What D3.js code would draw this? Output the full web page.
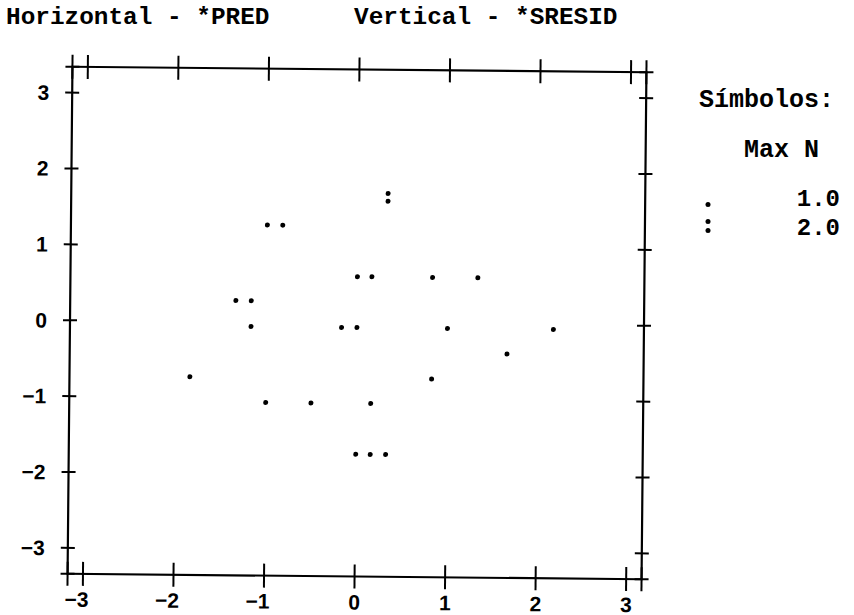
<!DOCTYPE html>
<html>
<head>
<meta charset="utf-8">
<script src="https://cdn.jsdelivr.net/npm/d3@7"></script>
<style>
  body { margin: 0; background: #fff; }
  svg { display: block; }
  .mono { font-family: "Liberation Mono", "Courier New", monospace; font-weight: bold; }
  .tick-lbl { font-family: "Liberation Sans", Arial, sans-serif; font-weight: bold; font-size: 21px; }
</style>
</head>
<body>
<div id="chart"></div>
<script>
/* scatter of standardized residuals vs predicted values */

// horizontal - *PRED
var predVals = [0.33, -1.00, -0.83, 0.00, 0.16, 0.83, 1.33, -1.34, -1.17, -1.17,
                -0.17, 0.00, 1.00, 2.17, 1.66, -1.84, 0.83, -1.00, -0.50, 0.16,
                0.00, 0.16, 0.33]
// vertical - *SRESID
var sresidVals = [1.66, 1.28, 1.28, 0.61, 0.61, 0.61, 0.61, 0.28, 0.28, -0.06,
                  -0.06, -0.06, -0.06, -0.06, -0.39, -0.73, -0.73, -1.06, -1.06, -1.06,
                  -1.73, -1.73, -1.73]
// cases per plotted symbol
var caseCounts = [2, 1, 1, 1, 1, 1, 1, 1, 1, 1,
                  1, 1, 1, 1, 1, 1, 1, 1, 1, 1,
                  1, 1, 1]

var xTicks = [-3, -2, -1, 0, 1, 2, 3]
var yTicks = [-3, -2, -1, 0, 1, 2, 3]
var xDomain = [-3.17, 3.17]
var yDomain = [-3.34, 3.34]

var legendCounts = [1, 2]
var legendLabels = ["1.0", "2.0"]

var width = 854,
    height = 615

var svg = d3.select("#chart")
  .append("svg")
    .attr("width", width)
    .attr("height", height)

// titles
svg.append("text").attr("class", "mono")
  .attr("x", 6).attr("y", 24)
  .style("font-size", "24.4px")
  .text("Horizontal - *PRED")
svg.append("text").attr("class", "mono")
  .attr("x", 354).attr("y", 24)
  .style("font-size", "24.4px")
  .text("Vertical - *SRESID")

// scales
var x = d3.scaleLinear().domain(xDomain).range([70, 644])
var y = d3.scaleLinear().domain(yDomain).range([576.5, 69.5])

// the scanned page is tilted a little
var plot = svg.append("g")
  .attr("transform", "rotate(0.55,357,323)")

var lineStyle = function(sel, w) {
  sel.attr("stroke", "#000").attr("stroke-width", w).attr("fill", "none")
}

// frame
plot.append("rect")
  .attr("x", x(xDomain[0])).attr("y", y(yDomain[1]))
  .attr("width", x(xDomain[1]) - x(xDomain[0]))
  .attr("height", y(yDomain[0]) - y(yDomain[1]))
  .call(lineStyle, 2.2)

// ticks cross the frame lines, frame ends are ticks too
var xTickPos = [xDomain[0]].concat(xTicks, [xDomain[1]])
var yTickPos = [yDomain[0]].concat(yTicks, [yDomain[1]])

yDomain.forEach(function(edge) {
  plot.selectAll(null)
    .data(xTickPos)
    .enter()
    .append("line")
      .attr("x1", function(d) { return x(d) }).attr("x2", function(d) { return x(d) })
      .attr("y1", y(edge) - 12).attr("y2", y(edge) + 12)
      .call(lineStyle, 2)
})
xDomain.forEach(function(edge) {
  plot.selectAll(null)
    .data(yTickPos)
    .enter()
    .append("line")
      .attr("y1", function(d) { return y(d) }).attr("y2", function(d) { return y(d) })
      .attr("x1", x(edge) - 7).attr("x2", x(edge) + 7)
      .call(lineStyle, 2)
})

var fmt = function(d) { return d < 0 ? "\u2212" + Math.abs(d) : String(d) }

// tick labels: digit sits under the tick, minus sticks out to the left
plot.selectAll(null)
  .data(xTicks)
  .enter()
  .append("text")
    .attr("class", "tick-lbl")
    .attr("x", function(d) { return x(d) + 5.8 })
    .attr("y", y(yDomain[0]) + 33)
    .attr("text-anchor", "end")
    .text(fmt)

plot.selectAll(null)
  .data(yTicks)
  .enter()
  .append("text")
    .attr("class", "tick-lbl")
    .attr("x", x(xDomain[0]) - 23)
    .attr("y", function(d) { return y(d) + 7.5 })
    .attr("text-anchor", "end")
    .text(fmt)

// points: "." for one case, ":" for two
var points = predVals.map(function(p, i) {
  return { px: p, py: sresidVals[i], n: caseCounts[i] }
})
var dotR = 2.5

points.forEach(function(d) {
  var offs = d.n === 2 ? [-3.85, 3.85] : [0]
  plot.selectAll(null)
    .data(offs)
    .enter()
    .append("circle")
      .attr("cx", x(d.px))
      .attr("cy", function(o) { return y(d.py) + o })
      .attr("r", dotR)
      .attr("fill", "#000")
})

// legend
svg.append("text").attr("class", "mono")
  .attr("x", 699).attr("y", 107)
  .style("font-size", "25px")
  .text("S\u00edmbolos:")
svg.append("text").attr("class", "mono")
  .attr("x", 744).attr("y", 157)
  .style("font-size", "25px")
  .text("Max N")

legendCounts.forEach(function(n, i) {
  var cy = i === 0 ? 204.5 : 226
  var offs = n === 2 ? [-4.5, 4.5] : [0]
  svg.selectAll(null)
    .data(offs)
    .enter()
    .append("circle")
      .attr("cx", 708)
      .attr("cy", function(o) { return cy + o })
      .attr("r", dotR)
      .attr("fill", "#000")
  svg.append("text").attr("class", "mono")
    .attr("x", 840).attr("y", i === 0 ? 206 : 235)
    .attr("text-anchor", "end")
    .style("font-size", "24px")
    .text(legendLabels[i])
})
</script>
</body>
</html>
